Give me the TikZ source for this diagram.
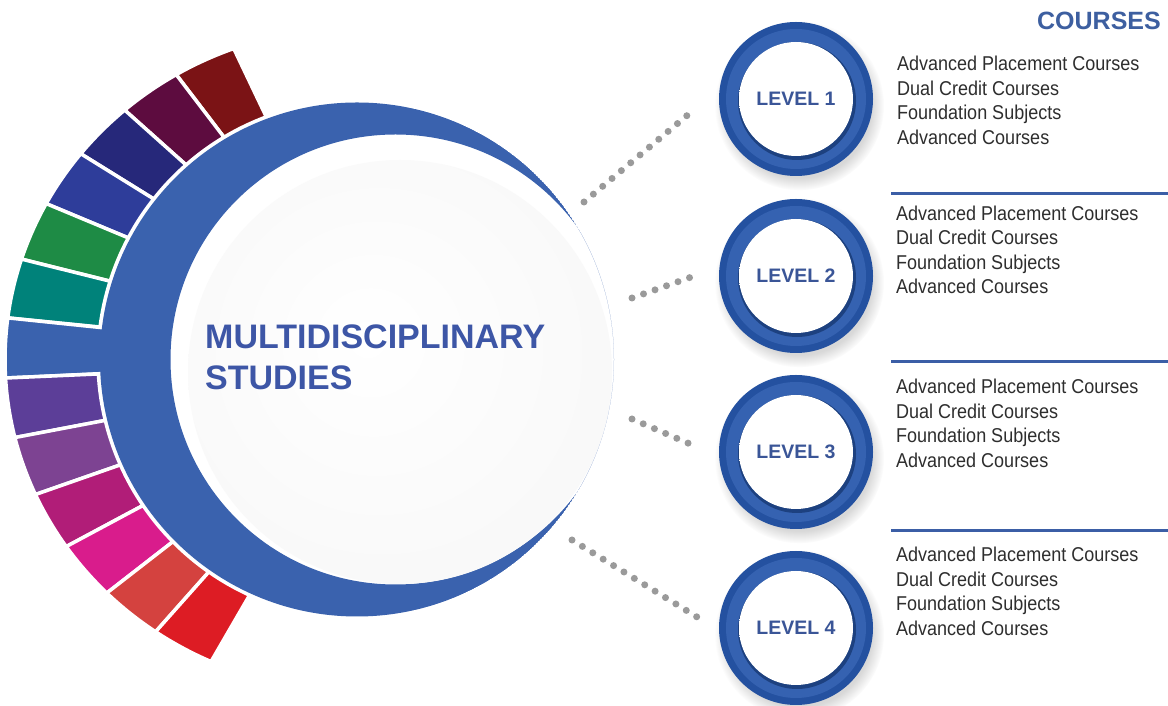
\documentclass[tikz,border=0pt]{standalone}
\usepackage{fontspec}
\setmainfont{Liberation Sans}
\newfontfamily\condfont[FakeStretch=0.9]{Liberation Sans}
\usetikzlibrary{shadows}
\definecolor{cresc}{HTML}{3A62AE}
\definecolor{segA}{HTML}{7B1315}
\definecolor{segB}{HTML}{5D0C3F}
\definecolor{segC}{HTML}{26287A}
\definecolor{segD}{HTML}{2E3D9A}
\definecolor{segE}{HTML}{1E8B45}
\definecolor{segF}{HTML}{00827A}
\definecolor{segG}{HTML}{5C3E98}
\definecolor{segH}{HTML}{7D4392}
\definecolor{segI}{HTML}{B11D78}
\definecolor{segJ}{HTML}{D91C8C}
\definecolor{segK}{HTML}{D4423F}
\definecolor{segL}{HTML}{DD1C24}
\definecolor{discgray}{HTML}{EDEDEE}
\definecolor{discin}{HTML}{F8F8F8}
\definecolor{lvlout}{HTML}{2451A0}
\definecolor{lvlmid}{HTML}{3562B1}
\definecolor{lvltxt}{HTML}{3A5597}
\definecolor{titlec}{HTML}{3D56A6}
\definecolor{headc}{HTML}{3D5FA0}
\definecolor{seplc}{HTML}{3B5EA6}
\definecolor{bodyc}{HTML}{2E2E2E}
\definecolor{dotgray}{HTML}{9A9A9A}
\pgfdeclareradialshading{discshade}{\pgfpoint{-4bp}{4bp}}{color(0bp)=(white); color(30bp)=(discin); color(44bp)=(discin); color(50bp)=(discgray)}
\pgfdeclareradialshading{lvlshade}{\pgfpoint{0bp}{0bp}}{color(0bp)=(white); color(38bp)=(white); color(50bp)=(black!7)}
\begin{document}
\begin{tikzpicture}[x=1pt,y=1pt,
  segfill/.style={draw=white, line width=3.5pt, line join=miter},
  levelc/.style={circle, minimum size=154pt, inner sep=0pt, fill=lvlout, text=lvltxt,
    font=\bfseries\fontsize{19.5}{20}\selectfont,
    circular drop shadow={shadow xshift=3pt, shadow yshift=-6pt, opacity=.3},
    path picture={
      \fill[lvlmid] (path picture bounding box.center) circle[radius=70pt];
      \fill[black!20!lvlout] ([xshift=1pt,yshift=-2pt]path picture bounding box.center) circle[radius=59pt];
      \shade[shading=lvlshade] (path picture bounding box.center) circle[radius=57pt];
    }},
  dotline/.style={draw=dotgray, line width=7pt, line cap=round, dash pattern=on 0pt off 12.2pt},
  sepline/.style={draw=seplc, line width=3pt},
  bodytext/.style={font=\condfont\fontsize{20}{24.5}\selectfont, text=bodyc, align=left, anchor=north west, inner sep=0pt},
]
\useasboundingbox (0,0) rectangle (1168,706);
\fill[white] (0,0) rectangle (1168,706);

% colored segments around the crescent
\begin{scope}[shift={(357,346.5)}]
\foreach \a/\b/\c/\r in {110.5/120.9/segA/259, 120.9/131.3/segB/259, 131.3/141.7/segC/259,
  141.7/152.0/segD/259, 152.0/162.4/segE/259, 162.4/172.8/segF/259, 172.8/183.2/cresc/240,
  183.2/193.6/segG/259, 193.6/204.0/segH/259, 204.0/214.3/segI/259, 214.3/224.7/segJ/259,
  224.7/235.1/segK/259, 235.1/245.5/segL/259}{
  \path[segfill, fill=\c] (\a:\r) -- (\a:352 and 332)
    arc[start angle=\a, end angle=\b, x radius=352, y radius=332]
    -- (\b:\r) arc[start angle=\b, end angle=\a, radius=\r] -- cycle;
}
\end{scope}

% blue crescent
\begin{scope}
  \clip (357,346.5) circle[radius=257];
  \fill[cresc, even odd rule] (357,346.5) circle[radius=257] (395.5,346.5) circle[radius=225];
\end{scope}

% main disc
\node[circle, minimum size=424pt, inner sep=0pt, shading=discshade] (main) at (400,334) {};
\node[font=\bfseries\fontsize{34}{41}\selectfont, text=titlec, align=left, anchor=north west, inner sep=0pt]
  (title) at (205,381.3) {MULTIDISCIPLINARY\\STUDIES};

% dotted connectors
\coordinate (d1a) at (584,504); \coordinate (d1b) at (696,598);
\coordinate (d2a) at (632,408); \coordinate (d2b) at (697,431);
\coordinate (d3a) at (632,287); \coordinate (d3b) at (697,259);
\coordinate (d4a) at (572,166); \coordinate (d4b) at (697,89);
\draw[dotline] (d1a) -- (d1b);
\draw[dotline] (d2a) -- (d2b);
\draw[dotline] (d3a) -- (d3b);
\draw[dotline] (d4a) -- (d4b);

% level circles
\node[levelc] (l1) at (796,607) {LEVEL 1};
\node[levelc] (l2) at (796,430) {LEVEL 2};
\node[levelc] (l3) at (796,254) {LEVEL 3};
\node[levelc] (l4) at (796,78) {LEVEL 4};

% heading and separators
\node[font=\bfseries\fontsize{25}{25}\selectfont, text=headc, anchor=base east, inner sep=0pt] (head) at (1161,676) {COURSES};
\coordinate (s1a) at (891,512); \coordinate (s1b) at (1168,512);
\coordinate (s2a) at (891,344); \coordinate (s2b) at (1168,344);
\coordinate (s3a) at (891,175); \coordinate (s3b) at (1168,175);
\draw[sepline] (s1a) -- (s1b);
\draw[sepline] (s2a) -- (s2b);
\draw[sepline] (s3a) -- (s3b);

% course lists
\node[bodytext] (c1) at (897,649.8) {Advanced Placement Courses\\Dual Credit Courses\\Foundation Subjects\\Advanced Courses};
\node[bodytext] (c2) at (896,500.3) {Advanced Placement Courses\\Dual Credit Courses\\Foundation Subjects\\Advanced Courses};
\node[bodytext] (c3) at (896,327.0) {Advanced Placement Courses\\Dual Credit Courses\\Foundation Subjects\\Advanced Courses};
\node[bodytext] (c4) at (896,159.0) {Advanced Placement Courses\\Dual Credit Courses\\Foundation Subjects\\Advanced Courses};
\end{tikzpicture}
\end{document}
